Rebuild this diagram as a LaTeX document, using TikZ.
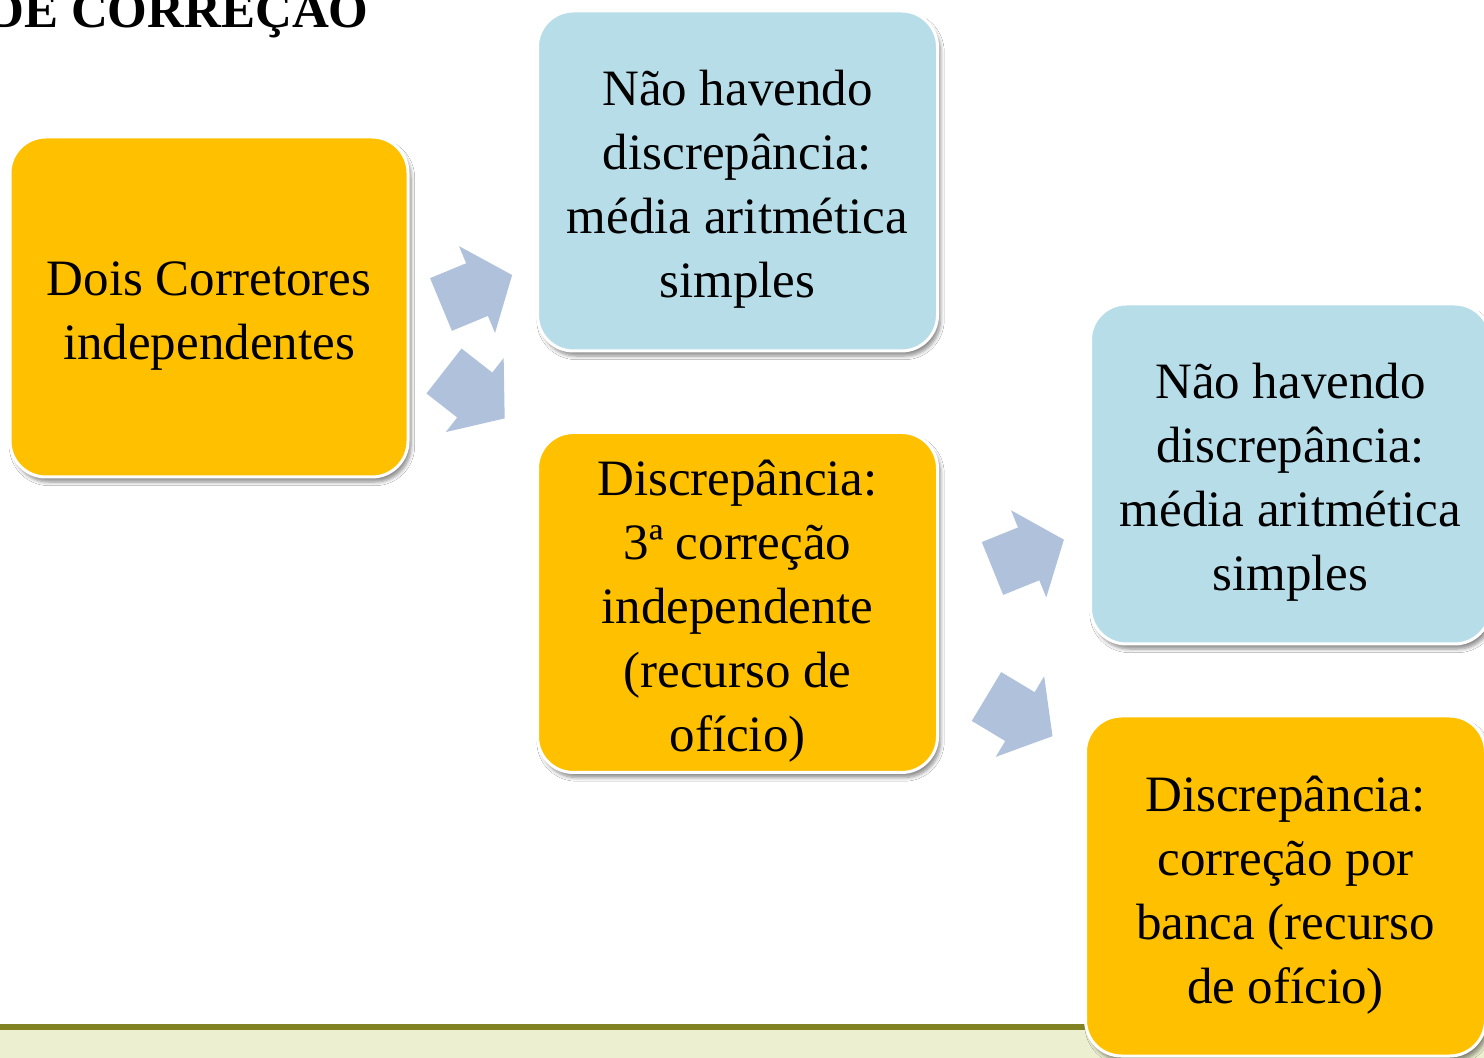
\documentclass[tikz,border=0pt]{standalone}
\usepackage{fontspec}
\setmainfont{Liberation Serif}
\usepackage{tikz}
\usetikzlibrary{shadows, shadows.blur, positioning}

\definecolor{laranja}{RGB}{255,192,0}
\definecolor{azulclaro}{RGB}{183,221,232}
\definecolor{azulseta}{RGB}{176,193,220}
\definecolor{oliva}{RGB}{128,130,36}
\definecolor{faixa}{RGB}{237,239,209}

\tikzset{
  seta/.pic={
    \fill[azulseta] (0,-28.5) -- (39,-28.5) -- (39,-47) -- (77,0) -- (39,47) -- (39,28.5) -- (0,28.5) -- cycle;
  }
}

\begin{document}
\begin{tikzpicture}[x=0.5pt, y=-0.5pt,
    caixa/.style={rounded corners=18pt, draw=white, line width=1.5pt, align=center,
      minimum width=200pt, minimum height=170pt, inner sep=0pt,
      font=\fontsize{25.5}{32}\selectfont,
      blur shadow={shadow xshift=1.5pt, shadow yshift=-2.5pt, shadow blur steps=6, shadow opacity=45}}]

        % Moldura da página
        \useasboundingbox (0,0) rectangle (1484,1058);
        \clip (0,0) rectangle (1484,1058);
        \fill[white] (0,0) rectangle (1484,1058);

        % Faixa do rodapé
        \fill[faixa] (0,1030) rectangle (1484,1058);
        \draw[oliva, line width=3pt] (0,1027) -- (1484,1027);

        % Título (cortado)
        \node[anchor=base east, inner sep=0pt, font=\fontsize{25.5}{30}\selectfont\bfseries] (titulo) at (369,28) {DE CORREÇÃO};

        % Caixas
        \node[caixa, fill=laranja, minimum width=199pt] (dois) at (209,307) {\rule{0pt}{27pt}Dois Corretores\\independentes\rule[-6pt]{0pt}{6pt}};
        \node[caixa, fill=azulclaro] (media1) at (737.5,181) {\rule{0pt}{27pt}Não havendo\\discrepância:\\média aritmética\\simples\rule[-6pt]{0pt}{6pt}};
        \node[caixa, fill=laranja] (terceira) at (737.5,602.5) {\rule{0pt}{27pt}Discrepância:\\3ª correção\\independente\\(recurso de\\ofício)\rule[-6pt]{0pt}{6pt}};
        \node[caixa, fill=azulclaro] (media2) at (1290.5,474) {\rule{0pt}{27pt}Não havendo\\discrepância:\\média aritmética\\simples\rule[-6pt]{0pt}{6pt}};
        \node[caixa, fill=laranja] (banca) at (1285.5,886) {\rule{0pt}{27pt}Discrepância:\\correção por\\banca (recurso\\de ofício)\rule[-6pt]{0pt}{6pt}};

        % Setas
        \pic[rotate=22.5] (s1) at (441,304.5) {seta};
        \pic[rotate=-38] (s2) at (444,371) {seta};
        \pic[rotate=22] (s3) at (992.5,568.5) {seta};
        \pic[rotate=-31] (s4) at (986.5,696.5) {seta};

\end{tikzpicture}
\end{document}
